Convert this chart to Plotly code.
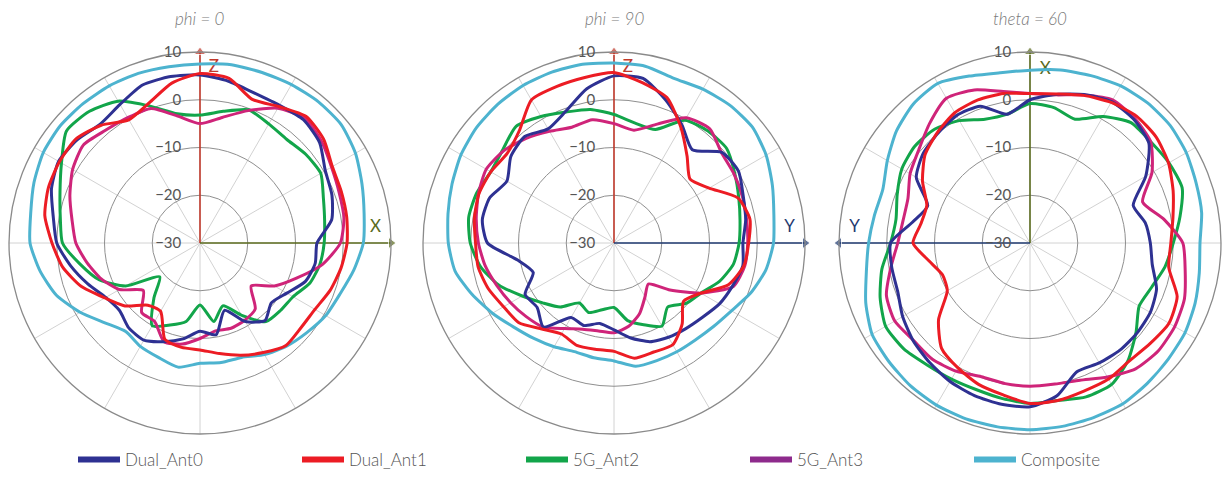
import plotly.graph_objects as go

# ---------------- data (dB, every 10 degrees from 0 to 350, counter-clockwise from +x) ----------------
ANGLES = list(range(0, 360, 10))
SERIES = ["Dual_Ant0", "Dual_Ant1", "5G_Ant2", "5G_Ant3", "Composite"]
TITLES = ["phi = 0", "phi = 90", "theta = 60"]
RTICKS = [-30, -20, -10, 0, 10]

p1_ant0 = [-5.5, -2.0, -0.6, 0.3, 2.7, 3.7, 3.3, 3.4, 4.4, 5.2, 5.4, 5.2, 3.5, 2.5, 3.6, 4.2, 3.1, 1.2,
           0.0, -2.5, -5.0, -7.2, -8.0, -6.8, -6.5, -8.0, -9.6, -11.5, -10.5, -15.0, -11.0, -8.8, -10.5, -9.0, -6.5, -5.5]
p1_ant1 = [0.8, 1.2, 1.5, 2.0, 3.8, 4.6, 3.0, 2.0, 5.0, 5.5, 4.0, 1.2, -0.2, 2.2, 3.9, 4.0, 3.8, 3.0,
           1.0, -0.8, -3.5, -7.0, -9.5, -13.0, -13.5, -8.5, -7.8, -7.6, -6.5, -5.0, -3.5, -2.0, -2.4, -2.2, -1.0, 0.0]
p1_ant2 = [-4.0, -3.5, -2.5, -0.8, -1.1, -1.7, -1.2, -0.3, -2.0, -3.2, -2.5, 0.5, 4.3, 6.0, 6.5, 3.5, 1.2, -0.3,
           -1.2, -4.5, -7.5, -12.0, -19.0, -15.0, -10.0, -11.7, -13.3, -17.0, -13.3, -16.0, -12.5, -8.5, -8.0, -7.5, -5.5, -4.5]
p1_ant3 = [-0.6, 0.6, 1.0, 1.8, 3.2, 4.1, 2.6, -0.5, -3.3, -5.0, -3.0, 0.0, 0.3, 0.8, 1.9, 0.8, -1.0, -2.8,
           -4.0, -6.0, -8.0, -10.5, -14.5, -11.0, -11.0, -8.0, -8.5, -10.0, -11.3, -11.0, -11.3, -12.0, -16.0, -12.0, -8.5, -4.0]
p1_comp = [4.2, 4.9, 6.1, 7.6, 8.6, 8.6, 8.3, 8.0, 7.9, 7.5, 7.5, 7.8, 8.0, 8.1, 8.2, 7.9, 7.0, 6.0,
           5.6, 4.0, 2.0, -1.0, -4.0, -5.8, -5.0, -4.5, -3.6, -4.8, -4.6, -4.5, -3.0, -1.8, -0.8, 0.4, 1.2, 2.7]

p2_ant0 = [-3.0, -2.0, -1.2, 0.1, -0.5, -4.5, -1.5, 1.8, 5.0, 5.0, 2.8, -0.6, -2.4, -0.9, -1.8, -4.1, -2.3, -2.0,
           -3.5, -9.5, -12.0, -8.5, -9.0, -7.0, -12.0, -11.6, -12.9, -11.8, -9.8, -8.0, -7.2, -6.6, -5.8, -4.5, -3.6, -2.6]
p2_ant1 = [-1.8, -1.1, -2.4, -7.0, -9.2, -6.2, -2.0, 2.4, 4.1, 5.7, 5.2, 4.9, 4.6, 0.8, -0.8, -0.2, 0.1, -0.3,
           -1.0, -1.1, -2.0, -3.3, -4.0, -6.5, -8.0, -7.2, -7.4, -7.3, -5.5, -5.7, -5.4, -7.8, -11.0, -9.0, -4.5, -2.4]
p2_ant2 = [-3.8, -3.2, -2.2, -0.8, 0.8, 0.6, -0.3, -4.7, -4.5, -3.1, -1.6, -0.8, 0.6, 1.9, 0.4, -0.2, 0.6, 0.9,
           0.1, -1.6, -4.3, -7.8, -10.5, -12.5, -15.5, -14.5, -15.8, -16.5, -13.5, -11.8, -9.9, -12.5, -10.3, -9.0, -6.5, -4.6]
p2_ant3 = [-2.0, -1.8, -1.4, -1.0, -0.6, 1.2, 0.3, -3.5, -6.0, -5.0, -3.8, -4.2, -3.0, -1.4, 0.1, 0.9, 0.2, -0.7,
           -1.6, -2.6, -3.9, -5.0, -6.0, -7.0, -9.3, -10.8, -11.3, -11.2, -12.3, -14.3, -17.0, -18.8, -14.7, -9.0, -3.4, -2.2]
p2_comp = [3.4, 4.0, 5.3, 6.8, 7.8, 7.7, 7.2, 6.7, 7.6, 7.7, 8.0, 8.1, 8.1, 7.9, 7.6, 7.0, 6.1, 5.3,
           4.7, 3.8, 1.6, -0.6, -2.6, -3.9, -4.9, -5.8, -5.6, -5.3, -3.8, -3.8, -3.7, -3.5, -2.8, -1.6, 0.5, 2.3]

p3_ant0 = [-4.8, -5.5, -7.0, -2.0, 2.5, 3.8, 4.2, 3.1, 1.6, 0.0, -2.6, 0.5, 0.8, 0.0, -0.8, -2.5, -7.2, -5.0,
           -0.8, -0.6, -0.5, 0.8, 1.9, 2.7, 3.5, 4.0, 4.3, 4.3, 2.5, -1.3, -1.0, -0.7, -0.7, -0.9, -1.8, -4.0]
p3_ant1 = [-0.5, 0.4, 1.9, 3.5, 4.5, 4.7, 4.0, 2.9, 1.7, 1.3, 1.8, 1.9, 1.5, 0.2, -1.3, -4.0, -7.0, -6.8,
           -5.5, -8.5, -10.5, -10.0, -5.0, -1.2, 0.2, 1.5, 2.3, 3.6, 3.5, 3.0, 2.9, 2.3, 2.8, 3.6, 2.8, -0.5]
p3_ant2 = [0.0, 1.9, 3.9, 3.6, 3.0, 2.9, 0.6, -2.4, -1.2, -0.8, -2.6, -2.4, -0.4, 1.1, 1.5, 1.0, -0.4, -1.5,
           -0.8, 1.5, 3.4, 4.9, 4.5, 3.4, 2.9, 2.7, 3.1, 3.6, 3.5, 4.3, 4.2, 2.0, -1.0, -3.6, -2.9, -1.3]
p3_ant3 = [2.0, -1.5, -4.9, -0.5, 3.0, 4.1, 4.6, 3.0, 1.5, 1.3, 2.2, 4.1, 5.0, 2.7, 0.4, -1.0, -2.8, -3.0,
           -2.3, -0.4, 2.0, 2.7, 1.8, 1.8, 1.0, -0.2, -0.1, 0.0, 0.0, 0.6, 2.4, 4.4, 5.1, 5.0, 4.4, 3.0]
p3_comp = [5.6, 6.5, 7.0, 7.8, 8.3, 8.3, 8.0, 7.3, 6.8, 6.2, 6.2, 7.2, 8.6, 8.0, 6.5, 4.5, 2.8, 3.1,
           3.8, 4.8, 6.6, 8.2, 8.6, 9.0, 9.2, 9.2, 9.1, 9.1, 9.0, 8.9, 8.9, 8.3, 7.8, 7.5, 6.8, 6.0]

PLOT_DATA = [
    [p1_ant0, p1_ant1, p1_ant2, p1_ant3, p1_comp],
    [p2_ant0, p2_ant1, p2_ant2, p2_ant3, p2_comp],
    [p3_ant0, p3_ant1, p3_ant2, p3_ant3, p3_comp],
]

# ---------------- styling ----------------
LINE_COLORS = ["#2e3192", "#ec1c24", "#12a54a", "#cf2479", "#4db3cf"]
LEGEND_COLORS = ["#2e3192", "#ec1c24", "#12a54a", "#8e2a8c", "#4db3cf"]
RED_AX, GREEN_AX, NAVY_AX = "#c0392b", "#5b6b1e", "#1f3a70"

ARROWS = [
    [(90, RED_AX, "Z", 6.9, 85.5, "triangle-up"), (0, GREEN_AX, "X", 6.9, 5.0, "triangle-right")],
    [(90, RED_AX, "Z", 6.9, 85.5, "triangle-up"), (0, NAVY_AX, "Y", 6.9, 5.0, "triangle-right")],
    [(90, GREEN_AX, "X", 6.4, 85.0, "triangle-up"), (180, NAVY_AX, "Y", 6.9, 175.0, "triangle-left")],
]

W, H = 1224, 478
CX = [200, 614, 1030]
CY = 243
RAD = 191

fig = go.Figure()

for i in range(3):
    pid = "polar" if i == 0 else f"polar{i+1}"
    for th, col, lab, lr, lth, sym in ARROWS[i]:
        fig.add_trace(go.Scatterpolar(
            r=[RTICKS[0], RTICKS[-1]], theta=[th, th], mode="lines+markers",
            line=dict(color=col, width=1.6),
            marker=dict(symbol=["circle", sym], size=[0, 10], color=col),
            cliponaxis=False, showlegend=False, hoverinfo="skip", subplot=pid))
        fig.add_trace(go.Scatterpolar(
            r=[lr], theta=[lth], mode="text", text=[lab],
            textfont=dict(family="Lato", size=17, color=col),
            showlegend=False, hoverinfo="skip", subplot=pid))
    order = [4, 2, 3, 0, 1]
    for k in order:
        vals = PLOT_DATA[i][k]
        fig.add_trace(go.Scatterpolar(
            r=vals + vals[:1], theta=ANGLES + ANGLES[:1], mode="lines",
            line=dict(color=LINE_COLORS[k], width=3, shape="spline", smoothing=0.6),
            name=SERIES[k], showlegend=False, subplot=pid))

for k, name in enumerate(SERIES):
    fig.add_trace(go.Scatterpolar(
        r=[None], theta=[None], mode="lines", name=name,
        line=dict(color=LEGEND_COLORS[k], width=6), showlegend=True, subplot="polar"))

polar_common = dict(
    bgcolor="white",
    angularaxis=dict(rotation=0, direction="counterclockwise", dtick=30,
                     showticklabels=False, ticks="", showline=True,
                     linecolor="#8a8a8a", linewidth=1.3,
                     gridcolor="#d2d2d2", gridwidth=1),
    radialaxis=dict(range=[RTICKS[0], RTICKS[-1]], tickvals=RTICKS, angle=90,
                    side="counterclockwise", tickangle=90, showline=False,
                    ticks="outside", ticklen=13, tickcolor="rgba(0,0,0,0)",
                    gridcolor="#8f8f8f", gridwidth=1.2,
                    tickfont=dict(family="Lato", size=15, color="#555555")),
)

layout = dict(
    width=W, height=H, paper_bgcolor="white", plot_bgcolor="white",
    margin=dict(l=0, r=0, t=0, b=0),
    font=dict(family="Lato", color="#555555"),
    showlegend=True,
    legend=dict(orientation="h", x=73 / W, xanchor="left",
                y=0, yanchor="bottom",
                entrywidth=167, entrywidthmode="pixels", itemwidth=42,
                font=dict(family="Lato", size=17, color="#555555", weight=300),
                bgcolor="rgba(0,0,0,0)"),
    annotations=[],
)
for i in range(3):
    key = "polar" if i == 0 else f"polar{i+1}"
    dom = dict(x=[(CX[i] - RAD) / W, (CX[i] + RAD) / W],
               y=[(H - CY - RAD) / H, (H - CY + RAD) / H])
    layout[key] = dict(domain=dom, **polar_common)
    layout["annotations"].append(dict(
        text=f"<i>{TITLES[i]}</i>", x=CX[i] / W, y=(H - 18) / H, xref="paper", yref="paper",
        showarrow=False, xanchor="center", yanchor="middle",
        font=dict(family="Lato", size=17, color="#7a7a7a", weight=300)))

fig.update_layout(**layout)
fig.write_html("out.html", config={"displayModeBar": False},
               post_script="document.body.style.margin='0';")
